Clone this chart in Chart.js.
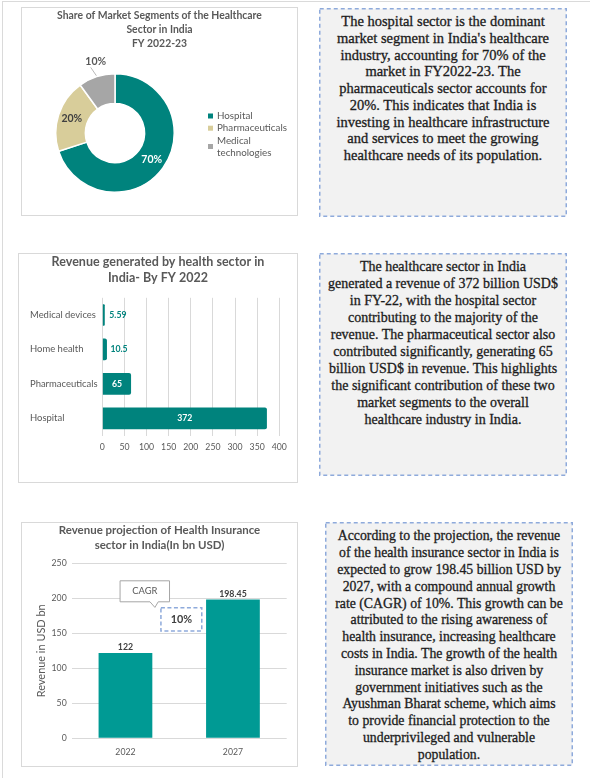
<!DOCTYPE html>
<html>
<head>
<meta charset="utf-8">
<script src="https://cdn.jsdelivr.net/npm/chart.js@4/dist/chart.umd.min.js"></script>
<style>
  html, body { margin: 0; padding: 0; background: #ffffff; }
  body { width: 590px; height: 778px; position: relative; overflow: hidden; }
  #frame { position: absolute; left: 2px; top: 1px; width: 620px; height: 800px;
           border-left: 1px solid #dadada; border-top: 1px solid #dadada; }
  .panel { position: absolute; box-sizing: border-box; border: 1px solid #d9d9d9; background: #fff; }
  .panel canvas { position: absolute; left: -1px; top: -1px; }
  .note { position: absolute; }
  .note svg { position: absolute; left: 0; top: 0; }
  .note .ln { position: absolute; left: 0; right: 0; text-align: center; white-space: nowrap;
              font-family: "Liberation Serif", "DejaVu Serif", serif; color: #1c1c1c;
              -webkit-text-stroke: 0.3px #1c1c1c; }
</style>
</head>
<body>
<div id="frame"></div>

<script>
// ---------------- DATA ----------------
const segmentLabels = ["Hospital", "Pharmaceuticals", "Medical technologies"];
const segmentShares = [70, 20, 10];

const revenueCategories = ["Medical devices", "Home health", "Pharmaceuticals", "Hospital"];
const revenueValues = [5.59, 10.5, 65, 372];
const revenueTicks = [0, 50, 100, 150, 200, 250, 300, 350, 400];

const insuranceYears = ["2022", "2027"];
const insuranceRevenue = [122, 198.45];
const insuranceTicks = [0, 50, 100, 150, 200, 250];
const insuranceAxisTitle = "Revenue in USD bn";
const cagrCallout = ["CAGR", "10%"];

const chartTitles = [
  ["Share of Market Segments of the Healthcare", "Sector in India", "FY 2022-23"],
  ["Revenue generated by health sector in", "India- By FY 2022"],
  ["Revenue projection of Health Insurance", "sector in India(In bn USD)"]
];

const noteTexts = [
  ["The hospital sector is the dominant",
   "market segment in India's healthcare",
   "industry, accounting for 70% of the",
   "market in FY2022-23. The",
   "pharmaceuticals sector accounts for",
   "20%. This indicates that India is",
   "investing in healthcare infrastructure",
   "and services to meet the growing",
   "healthcare needs of its population."],
  ["The healthcare sector in India",
   "generated a revenue of 372 billion USD$",
   "in FY-22, with the hospital sector",
   "contributing to the majority of the",
   "revenue. The pharmaceutical sector also",
   "contributed significantly, generating 65",
   "billion USD$ in revenue. This highlights",
   "the significant contribution of these two",
   "market segments to the overall",
   "healthcare industry in India."],
  ["According to the projection, the revenue",
   "of the health insurance sector in India is",
   "expected to grow 198.45 billion USD by",
   "2027, with a compound annual growth",
   "rate (CAGR) of 10%. This growth can be",
   "attributed to the rising awareness of",
   "health insurance, increasing healthcare",
   "costs in India. The growth of the health",
   "insurance market is also driven by",
   "government initiatives such as the",
   "Ayushman Bharat scheme, which aims",
   "to provide financial protection to the",
   "underprivileged and vulnerable",
   "population."]
];

// ---------------- LAYOUT / STYLE ----------------
const FONT = "Lato, 'Open Sans', sans-serif";
const SERIF = "'Liberation Serif', 'DejaVu Serif', serif";
const GREY = '#595959';
const DARK = '#404040';
const TEAL = '#00837d';
const TEAL_LIGHT = '#009a94';

const mctx = document.createElement('canvas').getContext('2d');
function fitSize(text, weight, family, target) {
  mctx.font = `${weight} 100px ${family}`;
  return 100 * target / mctx.measureText(text).width;
}

const PANELS = [
  { x: 21, y: 7,   w: 277, h: 209 },
  { x: 18, y: 253, w: 280, h: 230 },
  { x: 21, y: 522, w: 277, h: 245 }
];
const NOTES = [
  { x: 319, y: 8,   w: 248, h: 209, first: 13.7, step: 16.7, ref: 6, refW: 213 },
  { x: 319, y: 253, w: 248, h: 223, first: 13.7, step: 17.0, ref: 1, refW: 230 },
  { x: 325, y: 522, w: 248, h: 244, first: 14.7, step: 16.8, ref: 4, refW: 228 }
];

// notes
NOTES.forEach((n, k) => {
  const d = document.createElement('div');
  d.className = 'note';
  Object.assign(d.style, { left: n.x + 'px', top: n.y + 'px', width: n.w + 'px', height: n.h + 'px' });
  d.innerHTML = `<svg width="${n.w}" height="${n.h}"><rect x="0.75" y="0.75" width="${n.w - 1.5}" height="${n.h - 1.5}" fill="#f2f2f2" stroke="#8eaadb" stroke-width="1.5" stroke-dasharray="4 3"/></svg>`;
  const lines = noteTexts[k];
  const size = fitSize(lines[n.ref], 'normal', SERIF, n.refW);
  lines.forEach((t, i) => {
    const l = document.createElement('div');
    l.className = 'ln';
    l.textContent = t;
    l.style.fontSize = size + 'px';
    l.style.lineHeight = n.step + 'px';
    l.style.top = (n.first - n.step / 2 + i * n.step) + 'px';
    d.appendChild(l);
  });
  document.body.appendChild(d);
});

// panels + canvases
const canvases = PANELS.map(p => {
  const d = document.createElement('div');
  d.className = 'panel';
  Object.assign(d.style, { left: p.x + 'px', top: p.y + 'px', width: p.w + 'px', height: p.h + 'px' });
  const c = document.createElement('canvas');
  c.width = p.w; c.height = p.h;
  d.appendChild(c);
  document.body.appendChild(d);
  return c;
});

// ---------------- PLUGINS ----------------
function titlePlugin(lines, top, lh, targetW) {
  const size = fitSize(lines[0], 'bold', FONT, targetW);
  return {
    id: 'panelTitle',
    afterDraw(chart) {
      const ctx = chart.ctx;
      ctx.save();
      ctx.fillStyle = GREY;
      ctx.textAlign = 'center';
      ctx.textBaseline = 'middle';
      ctx.font = `bold ${size}px ${FONT}`;
      lines.forEach((t, i) => ctx.fillText(t, chart.width / 2, top + i * lh));
      ctx.restore();
    }
  };
}

const donutLabels = {
  id: 'donutLabels',
  afterDatasetsDraw(chart) {
    const ctx = chart.ctx;
    const meta = chart.getDatasetMeta(0);
    const data = chart.data.datasets[0].data;
    const total = data.reduce((a, b) => a + b, 0);
    ctx.save();
    ctx.font = `bold 10.5px ${FONT}`;
    ctx.textAlign = 'center';
    ctx.textBaseline = 'middle';
    meta.data.forEach((arc, i) => {
      const p = arc.getProps(['x', 'y', 'startAngle', 'endAngle', 'innerRadius', 'outerRadius'], true);
      const mid = (p.startAngle + p.endAngle) / 2;
      const share = data[i] / total;
      const txt = Math.round(share * 100) + '%';
      if (share >= 0.15) {
        const r = (p.innerRadius + p.outerRadius) / 2 + 1;
        ctx.fillStyle = i === 0 ? '#ffffff' : DARK;
        ctx.fillText(txt, p.x + Math.cos(mid) * r, p.y + Math.sin(mid) * r);
      } else {
        const r = p.outerRadius + 16;
        const lx = p.x + Math.cos(mid) * r + 4, ly = p.y + Math.sin(mid) * r;
        ctx.strokeStyle = '#a6a6a6';
        ctx.lineWidth = 0.8;
        ctx.beginPath();
        ctx.moveTo(p.x + Math.cos(mid) * (p.outerRadius + 1), p.y + Math.sin(mid) * (p.outerRadius + 1));
        ctx.lineTo(lx - 5, ly + 6);
        ctx.stroke();
        ctx.fillStyle = GREY;
        ctx.fillText(txt, lx, ly);
      }
    });
    ctx.restore();
  }
};

const legendSize = fitSize("Pharmaceuticals", 'normal', FONT, 70);
const donutLegend = {
  id: 'donutLegend',
  afterDraw(chart) {
    const ctx = chart.ctx;
    const area = chart.chartArea;
    const colors = chart.data.datasets[0].backgroundColor;
    ctx.save();
    ctx.font = `${legendSize}px ${FONT}`;
    const items = chart.data.labels.map((lab, i) => {
      const words = lab.split(' ');
      const lines = [];
      let cur = '';
      words.forEach(w => {
        const t = cur ? cur + ' ' + w : w;
        if (cur && ctx.measureText(t).width > 75) { lines.push(cur); cur = w; } else cur = t;
      });
      lines.push(cur);
      return { lines, color: colors[i] };
    });
    const lh = 12.2;
    const n = items.reduce((a, it) => a + it.lines.length, 0);
    const cy = (area.top + area.bottom) / 2 + 1.3;
    let y = cy - (n - 1) * lh / 2;
    const sx = area.right + 33;
    ctx.textAlign = 'left';
    ctx.textBaseline = 'middle';
    items.forEach(it => {
      const yc = y + (it.lines.length - 1) * lh / 2;
      ctx.fillStyle = it.color;
      ctx.fillRect(sx, yc - 2.5, 5, 5);
      ctx.fillStyle = GREY;
      it.lines.forEach(t => { ctx.fillText(t, sx + 9, y); y += lh; });
    });
    ctx.restore();
  }
};

const hbarLabels = {
  id: 'hbarLabels',
  afterDatasetsDraw(chart) {
    const ctx = chart.ctx;
    const meta = chart.getDatasetMeta(0);
    const data = chart.data.datasets[0].data;
    ctx.save();
    ctx.font = `bold 8.7px ${FONT}`;
    ctx.textBaseline = 'middle';
    meta.data.forEach((bar, i) => {
      const txt = String(data[i]);
      const w = ctx.measureText(txt).width;
      const len = bar.x - bar.base;
      if (len > w + 10) {
        ctx.textAlign = 'center';
        ctx.fillStyle = '#ffffff';
        ctx.fillText(txt, (bar.x + bar.base) / 2, bar.y);
      } else {
        ctx.textAlign = 'left';
        ctx.fillStyle = TEAL;
        ctx.fillText(txt, Math.max(bar.x, bar.base + 3) + 3.5, bar.y);
      }
    });
    ctx.restore();
  }
};

const vbarLabels = {
  id: 'vbarLabels',
  afterDatasetsDraw(chart) {
    const ctx = chart.ctx;
    const meta = chart.getDatasetMeta(0);
    const data = chart.data.datasets[0].data;
    ctx.save();
    ctx.font = `bold 8.8px ${FONT}`;
    ctx.textAlign = 'center';
    ctx.textBaseline = 'middle';
    ctx.fillStyle = DARK;
    meta.data.forEach((bar, i) => ctx.fillText(String(data[i]), bar.x, bar.y - 5.5));
    ctx.restore();
  }
};

const cagrPlugin = {
  id: 'cagr',
  afterDraw(chart) {
    const xs = chart.scales.x, ys = chart.scales.y, ctx = chart.ctx;
    ctx.save();
    // speech-bubble callout
    const l = xs.getPixelForValue(-0.05), r = xs.getPixelForValue(0.41);
    const t = ys.getPixelForValue(225), b = ys.getPixelForValue(195);
    const tl = xs.getPixelForValue(0.228), tr = xs.getPixelForValue(0.305);
    const tipX = xs.getPixelForValue(0.274), tipY = ys.getPixelForValue(187);
    ctx.beginPath();
    ctx.moveTo(l, t); ctx.lineTo(r, t); ctx.lineTo(r, b); ctx.lineTo(tr, b);
    ctx.lineTo(tipX, tipY); ctx.lineTo(tl, b); ctx.lineTo(l, b); ctx.closePath();
    ctx.fillStyle = '#ffffff'; ctx.fill();
    ctx.strokeStyle = '#a6a6a6'; ctx.lineWidth = 1; ctx.stroke();
    ctx.fillStyle = GREY;
    ctx.font = `9.4px ${FONT}`;
    ctx.textAlign = 'center'; ctx.textBaseline = 'middle';
    ctx.fillText(cagrCallout[0], (l + r) / 2, (t + b) / 2);
    // dashed rate box
    const l2 = xs.getPixelForValue(0.33), r2 = xs.getPixelForValue(0.71);
    const t2 = ys.getPixelForValue(186.6), b2 = ys.getPixelForValue(153.3);
    ctx.fillStyle = '#ffffff';
    ctx.fillRect(l2, t2, r2 - l2, b2 - t2);
    ctx.setLineDash([4, 2.5]);
    ctx.strokeStyle = '#8eaadb'; ctx.lineWidth = 1.5;
    ctx.strokeRect(l2, t2, r2 - l2, b2 - t2);
    ctx.setLineDash([]);
    ctx.fillStyle = DARK;
    ctx.font = `bold 10.8px ${FONT}`;
    ctx.fillText(cagrCallout[1], (l2 + r2) / 2, (t2 + b2) / 2);
    ctx.restore();
  }
};

// ---------------- CHARTS ----------------
const tickFont = { family: FONT, size: 8.7 };

new Chart(canvases[0], {
  type: 'doughnut',
  data: {
    labels: segmentLabels,
    datasets: [{
      data: segmentShares,
      backgroundColor: [TEAL, '#d8cd9a', '#a6a6a6'],
      borderColor: '#ffffff',
      borderWidth: 1.5,
      cutout: '50%'
    }]
  },
  options: {
    responsive: false,
    animation: false,
    layout: { padding: { left: 34, top: 66, right: 123, bottom: 23 } },
    plugins: { legend: { display: false }, tooltip: { enabled: false } }
  },
  plugins: [titlePlugin(chartTitles[0], 9, 13.6, 205), donutLabels, donutLegend]
});

new Chart(canvases[1], {
  type: 'bar',
  data: {
    labels: revenueCategories,
    datasets: [{
      data: revenueValues,
      backgroundColor: TEAL,
      barPercentage: 0.63,
      categoryPercentage: 1,
      borderRadius: 2,
      borderSkipped: 'start'
    }]
  },
  options: {
    indexAxis: 'y',
    responsive: false,
    animation: false,
    layout: { padding: { left: 12, top: 44.8, right: 18.7, bottom: 0 } },
    scales: {
      x: {
        min: revenueTicks[0], max: revenueTicks[revenueTicks.length - 1],
        afterBuildTicks: s => { s.ticks = revenueTicks.map(v => ({ value: v })); },
        grid: { color: '#d9d9d9', drawTicks: false },
        border: { display: false },
        ticks: { font: tickFont, color: GREY, padding: 6.3, maxRotation: 0 },
        afterFit: s => { s.height = 47.5; }
      },
      y: {
        grid: { display: false, drawTicks: false },
        border: { display: false },
        ticks: { font: { family: FONT, size: fitSize("Medical devices", 'normal', FONT, 66) },
                 color: GREY, padding: 5.6, crossAlign: 'far' },
        afterFit: s => { s.width = 72.3; }
      }
    },
    plugins: { legend: { display: false }, tooltip: { enabled: false } }
  },
  plugins: [titlePlugin(chartTitles[1], 8.7, 16.6, 213), hbarLabels]
});

new Chart(canvases[2], {
  type: 'bar',
  data: {
    labels: insuranceYears,
    datasets: [{
      data: insuranceRevenue,
      backgroundColor: TEAL_LIGHT,
      barPercentage: 0.5,
      categoryPercentage: 1
    }]
  },
  options: {
    responsive: false,
    animation: false,
    layout: { padding: { left: 0, top: 41.3, right: 11.3, bottom: 0 } },
    scales: {
      x: {
        grid: { display: false, drawTicks: false },
        border: { display: false },
        ticks: { font: tickFont, color: GREY, padding: 8.8 },
        afterFit: s => { s.height = 28.7; }
      },
      y: {
        min: insuranceTicks[0], max: insuranceTicks[insuranceTicks.length - 1],
        afterBuildTicks: s => { s.ticks = insuranceTicks.map(v => ({ value: v })); },
        grid: { color: '#d9d9d9', drawTicks: false },
        border: { display: false },
        ticks: { font: tickFont, color: GREY, padding: 5 },
        title: { display: true, text: insuranceAxisTitle, color: GREY,
                 font: { family: FONT, size: fitSize(insuranceAxisTitle, 'normal', FONT, 93) },
                 padding: { top: 14, bottom: 0 } },
        afterFit: s => { s.width = 50.7; }
      }
    },
    plugins: { legend: { display: false }, tooltip: { enabled: false } }
  },
  plugins: [titlePlugin(chartTitles[2], 8, 15.7, 201.7), vbarLabels, cagrPlugin]
});
</script>
</body>
</html>
